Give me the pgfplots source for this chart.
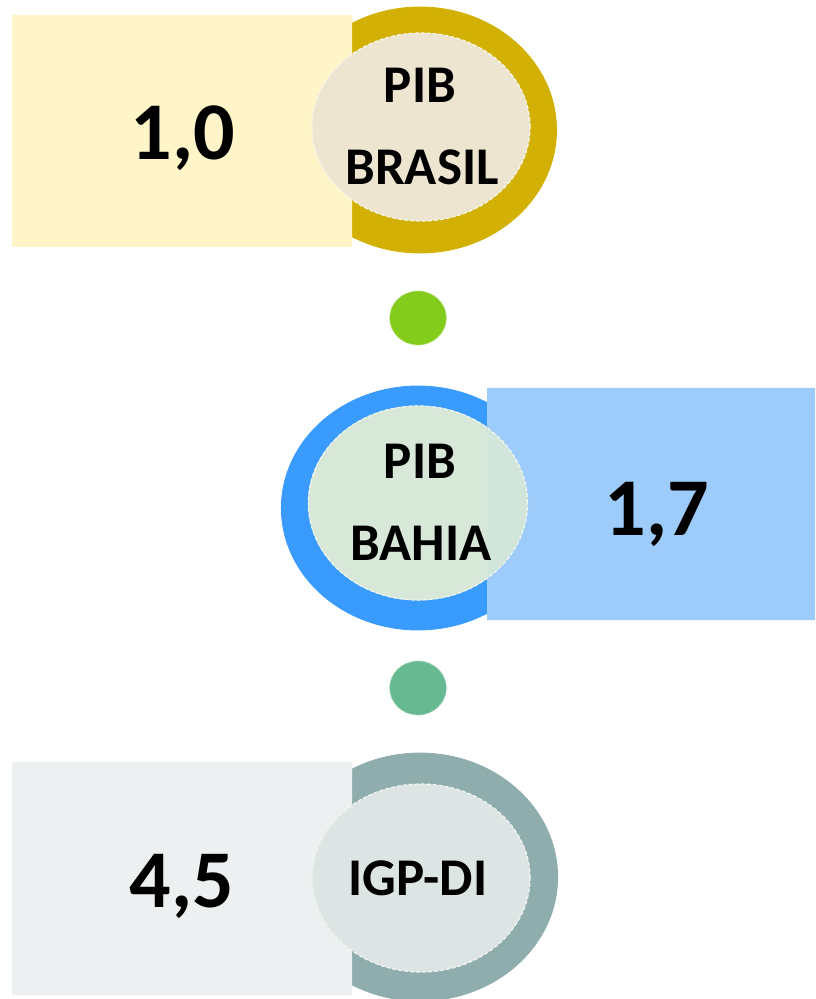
\documentclass[border=0pt]{standalone}
\usepackage{pgfplots}
\pgfplotsset{compat=1.18}
\usepackage{fontspec}
\setmainfont{Carlito}
\definecolor{rectA}{HTML}{FFF5C8}
\definecolor{ringA}{HTML}{D2B104}
\definecolor{innerA}{HTML}{EDE5D0}
\definecolor{ringB}{HTML}{3A9BFF}
\definecolor{innerB}{HTML}{D8E8D8}
\definecolor{rectB}{HTML}{9DCBFA}
\definecolor{dotA}{HTML}{84CC1C}
\definecolor{dotB}{HTML}{66B990}
\definecolor{rectC}{HTML}{ECF0F0}
\definecolor{ringC}{HTML}{8FADAD}
\definecolor{innerC}{HTML}{DDE5E4}
\begin{document}
\begin{tikzpicture}
\begin{axis}[width=407.5pt, height=499.5pt, scale only axis,
  xmin=0, xmax=815, ymin=0, ymax=999, y dir=reverse,
  hide axis, clip marker paths=true]
\coordinate (ll) at (axis cs:0,999);
\coordinate (ur) at (axis cs:815,0);
% ---- PIB Brasil ----
\addplot[color=ringA, only marks, mark=*, mark size=61.5pt, mark options={xscale=1.11, draw=ringA, fill=ringA}] coordinates {(420,130)};
\addplot[draw=none, fill=rectA] coordinates {(12,15) (352,15) (352,247) (12,247) (12,15)};
\addplot[color=innerA, only marks, mark=*, mark size=47pt, mark options={xscale=1.16, draw=white!60!innerA, line width=0.6pt, dash pattern=on 2pt off 1pt, fill=innerA}] coordinates {(421,127)};
\node[anchor=base, font=\bfseries\fontsize{26.5}{30}\selectfont] at (axis cs:420,103) {PIB};
\node[anchor=base, font=\bfseries\fontsize{26.5}{30}\selectfont] at (axis cs:422,185) {BRASIL};
\node[anchor=base, font=\bfseries\fontsize{41}{48}\selectfont] at (axis cs:183,160) {1,0};
% ---- dot 1 ----
\addplot[color=dotA, only marks, mark=*, mark size=13.5pt, mark options={xscale=1.05, draw=white!40!dotA, dash pattern=on 1.5pt off 1pt, fill=dotA}] coordinates {(418,318)};
% ---- PIB Bahia ----
\addplot[color=ringB, only marks, mark=*, mark size=61pt, mark options={xscale=1.12, draw=ringB, fill=ringB}] coordinates {(418,508)};
\addplot[color=innerB, only marks, mark=*, mark size=48.5pt, mark options={xscale=1.13, draw=innerB, fill=innerB}] coordinates {(418,503)};
\addplot[draw=none, fill=rectB] coordinates {(487,388) (815,388) (815,620) (487,620) (487,388)};
\addplot[color=innerB, only marks, mark=*, mark size=48.5pt, mark options={xscale=1.13, draw=white!60!innerB, line width=0.6pt, dash pattern=on 2pt off 1pt, fill=innerB, fill opacity=0.9}] coordinates {(418,503)};
\node[anchor=base, font=\bfseries\fontsize{26.5}{30}\selectfont] at (axis cs:420,478) {PIB};
\node[anchor=base, font=\bfseries\fontsize{26.5}{30}\selectfont] at (axis cs:421,560) {BAHIA};
\node[anchor=base, font=\bfseries\fontsize{41}{48}\selectfont] at (axis cs:657,535) {1,7};
% ---- dot 2 ----
\addplot[color=dotB, only marks, mark=*, mark size=13.5pt, mark options={xscale=1.05, draw=white!40!dotB, dash pattern=on 1.5pt off 1pt, fill=dotB}] coordinates {(418,688)};
% ---- IGP-DI ----
\addplot[color=ringC, only marks, mark=*, mark size=62pt, mark options={xscale=1.11, draw=ringC, fill=ringC}] coordinates {(420,877)};
\addplot[draw=none, fill=rectC] coordinates {(12,762) (352,762) (352,995) (12,995) (12,762)};
\addplot[color=innerC, only marks, mark=*, mark size=47pt, mark options={xscale=1.16, draw=white!60!innerC, line width=0.6pt, dash pattern=on 2pt off 1pt, fill=innerC}] coordinates {(421,878)};
\node[anchor=base, font=\bfseries\fontsize{26.5}{30}\selectfont] at (axis cs:418,895) {IGP-DI};
\node[anchor=base, font=\bfseries\fontsize{41}{48}\selectfont] at (axis cs:182,907) {4,5};
\end{axis}
\pgfresetboundingbox
\path[use as bounding box] (ll) rectangle (ur);
\end{tikzpicture}
\end{document}
